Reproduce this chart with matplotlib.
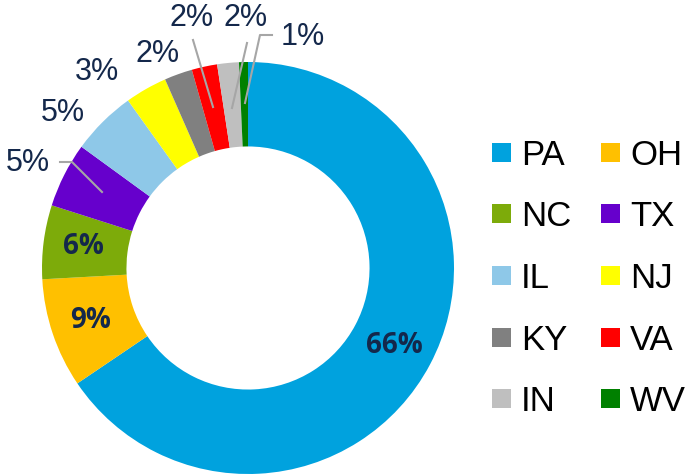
import matplotlib.pyplot as plt
import numpy as np

states = ["PA", "OH", "NC", "TX", "IL", "NJ", "KY", "VA", "IN", "WV"]
shares = [65.6, 8.6, 5.8, 5.1, 5.1, 3.3, 2.2, 2.0, 1.7, 0.7]
colors = ["#00A2DE", "#FFC000", "#7DAB0A", "#6600CC", "#8EC8E8",
          "#FFFF00", "#808080", "#FF0000", "#BFBFBF", "#008000"]
pct_labels = [f"{v:.0f}%" for v in shares]

NAVY = "#14284B"
W, H = 689, 476
CX, CY, R = 248, 268, 206


def px(x, y):
    # pixel position -> pie data coordinates
    return (x - CX) / R, (CY - y) / R


fig = plt.figure(figsize=(W / 100, H / 100), dpi=100)
ax = fig.add_axes([(CX - R) / W, (H - CY - R) / H, 2 * R / W, 2 * R / H])

wedges, _ = ax.pie(shares, colors=colors, startangle=90, counterclock=False,
                   radius=1, wedgeprops=dict(width=0.41, linewidth=0))
ax.set_xlim(-1, 1)
ax.set_ylim(-1, 1)
ax.set_aspect("equal")
ax.axis("off")

# labels inside the ring for the big slices
for i in range(3):
    w = wedges[i]
    mid = np.deg2rad((w.theta1 + w.theta2) / 2)
    ax.text(0.805 * np.cos(mid), 0.805 * np.sin(mid), pct_labels[i],
            ha="center", va="center", fontsize=20, fontweight="bold",
            family="Open Sans", color=NAVY)

# labels outside (moved by hand like the original)
outer_pos = {3: (27.5, 163), 4: (62.5, 113), 5: (97, 72), 6: (157.5, 54),
             7: (192, 18), 8: (246, 18), 9: (302.5, 37)}
for i, (x, y) in outer_pos.items():
    ax.text(*px(x, y), pct_labels[i], ha="center", va="center",
            fontsize=22, family="Liberation Sans", color=NAVY, clip_on=False)

leaders = [
    [(60, 162), (72, 162), (102, 192)],
    [(193, 40), (213, 107)],
    [(247, 43), (232, 108)],
    [(272, 35), (260, 35), (245, 103)],
]
for pts in leaders:
    xy = np.array([px(x, y) for x, y in pts])
    ax.plot(xy[:, 0], xy[:, 1], color="#A6A6A6", lw=1.5, clip_on=False)

# legend, two columns
col_x = [492, 601]
row_y = [152, 213, 275, 337, 398]
sq = 19
for i, (name, c) in enumerate(zip(states, colors)):
    x0 = col_x[i % 2]
    y0 = row_y[i // 2]
    fig.add_artist(plt.Rectangle((x0 / W, (H - y0 - sq / 2) / H), sq / W, sq / H,
                                 transform=fig.transFigure, color=c, lw=0))
    fig.text((x0 + 29) / W, (H - y0) / H, name, ha="left", va="center_baseline",
             fontsize=25, family="Liberation Sans", color="black")

fig.savefig("out.png", dpi=100)
